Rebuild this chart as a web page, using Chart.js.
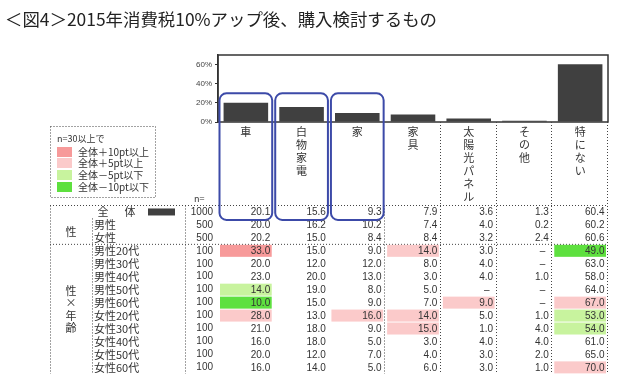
<!DOCTYPE html>
<html>
<head>
<meta charset="utf-8">
<script src="https://cdn.jsdelivr.net/npm/chart.js@4.4.1/dist/chart.umd.min.js"></script>
<style>
  body { margin: 0; background: #fff; }
  canvas { display: block; }
</style>
</head>
<body>
<canvas id="chart" width="640" height="390"></canvas>
<script>
// Data
const titleText = '＜図4＞2015年消費税10%アップ後、購入検討するもの';
const categories = ['車', '白物家電', '家', '家具', '太陽光パネル', 'その他', '特にない'];
const totalN = 1000;
const totalValues = [20.1, 15.6, 9.3, 7.9, 3.6, 1.3, 60.4];
const rowLabels = ['男性', '女性', '男性20代', '男性30代', '男性40代', '男性50代', '男性60代',
  '女性20代', '女性30代', '女性40代', '女性50代', '女性60代'];
const rowN = [500, 500, 100, 100, 100, 100, 100, 100, 100, 100, 100, 100];
const rowValues = [
  [20.0, 16.2, 10.2, 7.4, 4.0, 0.2, 60.2],
  [20.2, 15.0, 8.4, 8.4, 3.2, 2.4, 60.6],
  [33.0, 15.0, 9.0, 14.0, 3.0, null, 49.0],
  [20.0, 12.0, 12.0, 8.0, 4.0, null, 63.0],
  [23.0, 20.0, 13.0, 3.0, 4.0, 1.0, 58.0],
  [14.0, 19.0, 8.0, 5.0, null, null, 64.0],
  [10.0, 15.0, 9.0, 7.0, 9.0, null, 67.0],
  [28.0, 13.0, 16.0, 14.0, 5.0, 1.0, 53.0],
  [21.0, 18.0, 9.0, 15.0, 1.0, 4.0, 54.0],
  [16.0, 18.0, 5.0, 3.0, 4.0, 4.0, 61.0],
  [20.0, 12.0, 7.0, 4.0, 3.0, 2.0, 65.0],
  [16.0, 14.0, 5.0, 6.0, 3.0, 1.0, 70.0]
];
const yTicks = [0, 20, 40, 60];
const legendNote = 'n=30以上で';
const legendLabels = ['全体＋10pt以上', '全体＋5pt以上', '全体－5pt以下', '全体－10pt以下'];
const framedColumns = [0, 1, 2];

const JP = '"Noto Sans CJK JP", "Noto Sans", sans-serif';
const legendColors = ['#f79a9a', '#fbcaca', '#c8f39e', '#5ee03f'];

// colour of a table cell compared with the total row
function cellColor(v, base, n) {
  if (v == null || n < 30) return null;
  const d = v - base;
  if (d >= 10) return legendColors[0];
  if (d >= 5) return legendColors[1];
  if (d <= -10) return legendColors[3];
  if (d <= -5) return legendColors[2];
  return null;
}

function line(ctx, x1, y1, x2, y2) {
  ctx.beginPath();
  ctx.moveTo(x1, y1);
  ctx.lineTo(x2, y2);
  ctx.stroke();
}

function fmt(v) {
  return v == null ? '–' : v.toFixed(1);
}

const tablePlugin = {
  id: 'tablePlugin',
  afterDraw(chart) {
    const { ctx, chartArea: a, scales: { x, y } } = chart;
    const colW = (a.right - a.left) / categories.length;
    const colL = i => x.getPixelForValue(i) - colW / 2;
    const rowTop = 205.5;
    const rowH = 12.95;
    const rowY = k => rowTop + rowH * (k + 0.5);
    const tableBottom = rowTop + rowH * (rowLabels.length + 1);

    ctx.save();

    // title, squeezed to the width of the original condensed font
    ctx.font = `17px ${JP}`;
    ctx.fillStyle = '#222';
    ctx.textBaseline = 'middle';
    ctx.textAlign = 'left';
    const tw = ctx.measureText(titleText).width;
    ctx.save();
    ctx.translate(5, 20);
    ctx.scale(432 / tw, 1);
    ctx.fillText(titleText, 0, 0);
    ctx.restore();

    // plot frame
    ctx.strokeStyle = '#333';
    ctx.lineWidth = 1.5;
    ctx.strokeRect(a.left, a.top, a.right - a.left, a.bottom - a.top);

    // column headers, written vertically
    ctx.fillStyle = '#333';
    ctx.font = `11px ${JP}`;
    ctx.textAlign = 'center';
    categories.forEach((c, i) => {
      [...c].forEach((ch, k) => ctx.fillText(ch, x.getPixelForValue(i), 132 + k * 13));
    });

    // dotted rules
    ctx.setLineDash([1, 2]);
    ctx.strokeStyle = '#444';
    ctx.lineWidth = 1;
    line(ctx, 50, rowTop, a.right, rowTop);
    line(ctx, 50, rowTop + rowH * 3, a.right, rowTop + rowH * 3);
    line(ctx, 50.5, rowTop, 50.5, tableBottom);
    line(ctx, 185.5, rowTop, 185.5, tableBottom);
    line(ctx, 92.5, rowTop + rowH, 92.5, tableBottom);
    for (let i = 2; i < categories.length; i++) {
      const xr = Math.round(colL(i) + colW) - 0.5;
      line(ctx, xr, i > 2 ? a.bottom : rowTop, xr, tableBottom);
    }

    // legend box
    ctx.strokeRect(50.5, 126.5, 105, 71);
    ctx.setLineDash([]);
    ctx.textAlign = 'left';
    ctx.font = `9px ${JP}`;
    ctx.fillStyle = '#333';
    ctx.fillText(legendNote, 57, 139);
    const legY = [152, 163, 175, 187];
    ctx.font = `10px ${JP}`;
    legendLabels.forEach((t, i) => {
      ctx.fillStyle = legendColors[i];
      ctx.fillRect(57, legY[i] - 5, 15, 10);
      ctx.fillStyle = '#333';
      ctx.fillText(t, 78, legY[i]);
    });

    // "n=" caption
    ctx.font = `9px ${JP}`;
    ctx.fillText('n=', 194, 199);

    // total row
    ctx.font = `11px ${JP}`;
    ctx.textAlign = 'center';
    ctx.fillText('全', 103, rowY(0));
    ctx.fillText('体', 130, rowY(0));
    ctx.fillStyle = '#404040';
    ctx.fillRect(148, rowY(0) - 3.5, 27, 7);

    // group labels
    ctx.fillStyle = '#333';
    ctx.fillText('性', 71, rowTop + rowH * 2);
    const mid = rowTop + rowH * (3 + 13) / 2;
    ['性', '×', '年', '齢'].forEach((ch, k) => ctx.fillText(ch, 71, mid - 18.75 + k * 12.5));

    // row labels and n
    ctx.textAlign = 'left';
    rowLabels.forEach((r, k) => ctx.fillText(r, 94, rowY(k + 1)));
    ctx.font = '10px "Liberation Sans", Arial, sans-serif';
    ctx.textAlign = 'right';
    ctx.fillText(String(totalN), 213, rowY(0));
    rowN.forEach((n, k) => ctx.fillText(String(n), 213, rowY(k + 1)));

    // values
    const allRows = [totalValues, ...rowValues];
    const allN = [totalN, ...rowN];
    allRows.forEach((vals, k) => {
      vals.forEach((v, i) => {
        const left = colL(i);
        const bg = k > 0 ? cellColor(v, totalValues[i], allN[k]) : null;
        if (bg) {
          ctx.fillStyle = bg;
          ctx.fillRect(left + 2, rowY(k) - 6, colW - 4, 12);
        }
        ctx.fillStyle = '#333';
        ctx.fillText(fmt(v), left + colW - (v == null ? 7 : 3.5), rowY(k) + 0.5);
      });
    });

    // blue frames around the first columns
    ctx.strokeStyle = '#3c4aa8';
    ctx.lineWidth = 2;
    const fTop = y.getPixelForValue(30);
    const fBottom = rowTop + rowH + 1.5;
    framedColumns.forEach(i => {
      ctx.beginPath();
      ctx.roundRect(colL(i) + 1.5, fTop, colW - 3, fBottom - fTop, 7);
      ctx.stroke();
    });

    ctx.restore();
  }
};

new Chart(document.getElementById('chart'), {
  type: 'bar',
  data: {
    labels: categories,
    datasets: [{
      data: totalValues,
      backgroundColor: '#404040',
      barPercentage: 0.8,
      categoryPercentage: 1
    }]
  },
  options: {
    responsive: false,
    animation: false,
    layout: { padding: { left: 188, right: 32, top: 55, bottom: 268 } },
    plugins: {
      legend: { display: false },
      tooltip: { enabled: false }
    },
    scales: {
      x: { display: false },
      y: {
        min: 0,
        max: 70,
        afterFit: s => { s.width = 30; },
        afterBuildTicks: s => { s.ticks = yTicks.map(v => ({ value: v })); },
        ticks: {
          color: '#444',
          font: { size: 8, family: '"Liberation Sans", Arial, sans-serif' },
          padding: 3,
          callback: v => v + '%'
        },
        grid: { drawOnChartArea: false, tickLength: 3, color: '#333' },
        border: { color: '#333', width: 1.5 }
      }
    }
  },
  plugins: [tablePlugin]
});
</script>
</body>
</html>
